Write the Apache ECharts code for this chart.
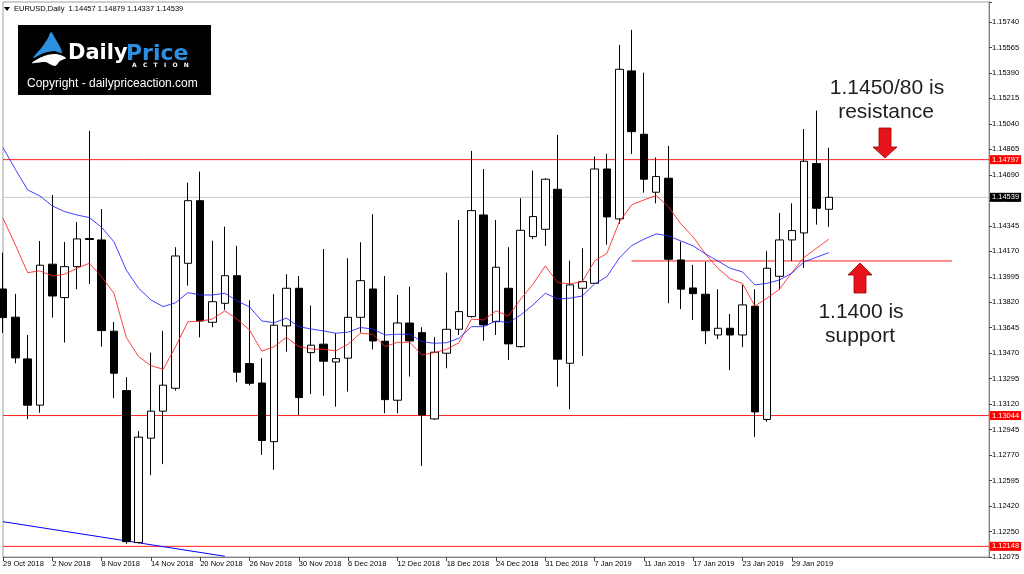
<!DOCTYPE html>
<html>
<head>
<meta charset="utf-8">
<script src="https://cdn.jsdelivr.net/npm/echarts@6/dist/echarts.min.js"></script>
<style>
html,body{margin:0;padding:0;background:#fff;}
#chart{width:1024px;height:574px;}
</style>
</head>
<body>
<div id="chart"></div>
<script>
// EURUSD daily bars, 29 Oct 2018 - 1 Feb 2019
var dates = ['29 Oct 2018','30 Oct 2018','31 Oct 2018','1 Nov 2018','2 Nov 2018','5 Nov 2018','6 Nov 2018','7 Nov 2018',
    '8 Nov 2018','9 Nov 2018','12 Nov 2018','13 Nov 2018','14 Nov 2018','15 Nov 2018','16 Nov 2018','19 Nov 2018',
    '20 Nov 2018','21 Nov 2018','22 Nov 2018','23 Nov 2018','26 Nov 2018','27 Nov 2018','28 Nov 2018','29 Nov 2018',
    '30 Nov 2018','3 Dec 2018','4 Dec 2018','5 Dec 2018','6 Dec 2018','7 Dec 2018','10 Dec 2018','11 Dec 2018',
    '12 Dec 2018','13 Dec 2018','14 Dec 2018','17 Dec 2018','18 Dec 2018','19 Dec 2018','20 Dec 2018','21 Dec 2018',
    '24 Dec 2018','26 Dec 2018','27 Dec 2018','28 Dec 2018','31 Dec 2018','2 Jan 2019','3 Jan 2019','4 Jan 2019',
    '7 Jan 2019','8 Jan 2019','9 Jan 2019','10 Jan 2019','11 Jan 2019','14 Jan 2019','15 Jan 2019','16 Jan 2019',
    '17 Jan 2019','18 Jan 2019','21 Jan 2019','22 Jan 2019','23 Jan 2019','24 Jan 2019','25 Jan 2019','28 Jan 2019',
    '29 Jan 2019','30 Jan 2019','31 Jan 2019','1 Feb 2019'];
var opens = [1.13911,1.13718,1.13432,1.13115,1.14081,1.13852,1.14064,1.14257,1.14247,1.13622,1.13215,1.12174,
    1.12889,1.13074,1.13231,1.14087,1.14516,1.13683,1.13813,1.14002,1.13400,1.13267,1.12865,1.13658,
    1.13916,1.13475,1.13533,1.13411,1.13437,1.13717,1.13911,1.13553,1.13149,1.13678,1.13612,1.13021,
    1.13471,1.13635,1.13722,1.14418,1.13687,1.13916,1.13516,1.14270,1.14320,1.14594,1.13402,1.13916,
    1.13950,1.14733,1.14391,1.15405,1.14971,1.14574,1.14670,1.14110,1.13918,1.13875,1.13596,1.13642,
    1.13596,1.13793,1.13017,1.13998,1.14247,1.14295,1.14770,1.14457];
var highs = [1.14160,1.13877,1.13596,1.14240,1.14555,1.14233,1.14370,1.14994,1.14459,1.13685,1.13307,1.12937,
    1.13475,1.13624,1.14197,1.14640,1.14715,1.14242,1.14338,1.14206,1.13833,1.13437,1.13875,1.14012,
    1.14000,1.13797,1.14185,1.13608,1.14122,1.14231,1.14423,1.14000,1.13870,1.13927,1.13649,1.13581,
    1.14023,1.14384,1.14857,1.14733,1.14384,1.14197,1.14533,1.14722,1.14670,1.14966,1.14105,1.14190,
    1.14818,1.14838,1.15583,1.15686,1.15393,1.14812,1.14891,1.14235,1.14076,1.14098,1.13909,1.13740,
    1.13939,1.13909,1.14170,1.14432,1.14498,1.15007,1.15133,1.14879];
var lows = [1.13610,1.13402,1.13019,1.13064,1.13715,1.13544,1.13909,1.13944,1.13516,1.13163,1.12165,1.12169,
    1.12635,1.12711,1.13215,1.13934,1.13580,1.13649,1.13768,1.13272,1.13250,1.12774,1.12672,1.13482,
    1.13048,1.13192,1.13180,1.13105,1.13208,1.13612,1.13498,1.13060,1.13060,1.13311,1.12699,1.13015,
    1.13368,1.13596,1.13715,1.13557,1.13596,1.13425,1.13510,1.14254,1.14206,1.13242,1.13087,1.13452,
    1.13945,1.14215,1.14357,1.14836,1.14571,1.14498,1.13813,1.13773,1.13699,1.13533,1.13567,1.13356,
    1.13512,1.12898,1.13002,1.13907,1.14103,1.14055,1.14352,1.14337];
var closes = [1.13715,1.13439,1.13115,1.14074,1.13863,1.14064,1.14254,1.14250,1.13626,1.13334,1.12180,1.12896,
    1.13074,1.13252,1.14137,1.14516,1.13692,1.13824,1.14002,1.13341,1.13265,1.12873,1.13663,1.13916,
    1.13167,1.13526,1.13416,1.13434,1.13717,1.13968,1.13555,1.13153,1.13678,1.13555,1.13048,1.13478,
    1.13635,1.13756,1.14448,1.13665,1.14060,1.13535,1.14313,1.14407,1.14663,1.13430,1.13939,1.13961,
    1.14733,1.14405,1.15416,1.14989,1.14663,1.14681,1.14115,1.13910,1.13879,1.13625,1.13642,1.13596,
    1.13802,1.13069,1.14053,1.14247,1.14311,1.14786,1.14464,1.14539];
// moving averages as drawn (red = fast, blue = slow)
var maFast = [1.14396,1.14213,1.14023,1.14035,1.14000,1.14012,1.14053,1.14087,1.13996,1.13882,1.13580,1.13448,
    1.13386,1.13361,1.13516,1.13687,1.13690,1.13706,1.13761,1.13704,1.13630,1.13485,1.13516,1.13580,
    1.13516,1.13500,1.13498,1.13487,1.13533,1.13608,1.13601,1.13516,1.13546,1.13546,1.13459,1.13475,
    1.13498,1.13543,1.13704,1.13699,1.13761,1.13726,1.13841,1.13944,1.14069,1.13955,1.13946,1.13961,
    1.14103,1.14156,1.14370,1.14487,1.14521,1.14552,1.14473,1.14357,1.14267,1.14151,1.14053,1.13980,
    1.13948,1.13795,1.13848,1.13909,1.14023,1.14128,1.14190,1.14252];
var maSlow = [1.14879,1.14731,1.14590,1.14548,1.14480,1.14441,1.14418,1.14400,1.14334,1.14235,1.14041,1.13916,
    1.13836,1.13790,1.13817,1.13886,1.13870,1.13870,1.13882,1.13829,1.13788,1.13692,1.13680,1.13711,
    1.13653,1.13637,1.13624,1.13608,1.13615,1.13647,1.13637,1.13596,1.13601,1.13601,1.13550,1.13539,
    1.13543,1.13574,1.13653,1.13653,1.13692,1.13680,1.13733,1.13802,1.13882,1.13843,1.13848,1.13863,
    1.13946,1.13996,1.14122,1.14208,1.14252,1.14288,1.14275,1.14240,1.14206,1.14151,1.14103,1.14053,
    1.14028,1.13939,1.13950,1.13973,1.14019,1.14098,1.14128,1.14160];
var yTickLabels = ['1.12075','1.12250','1.12420','1.12595','1.12770','1.12945','1.13120','1.13295','1.13470',
    '1.13645','1.13820','1.13995','1.14170','1.14345','1.14515','1.14690','1.14865','1.15040','1.15215',
    '1.15390','1.15565','1.15740'];
var levelLines = [1.14797, 1.13044, 1.12148];
var lastPrice = 1.14539;
var supportLevel = 1.14103;
var supportSpan = [51, 77];
var trendLine = [[0, 1.12317], [18, 1.12080]];
var emptyBars = 13;

var yMin = parseFloat(yTickLabels[0]);
var yStep = (parseFloat(yTickLabels[yTickLabels.length - 1]) - yMin) / (yTickLabels.length - 1);

var categories = dates.slice();
for (var k = 0; k < emptyBars; k++) categories.push('_' + k);
var lastIndex = categories.length - 1;

var ohlc = [];
for (var i = 0; i < dates.length; i++) {
    ohlc.push([opens[i], closes[i], lows[i], highs[i]]);
}

function showDateTick(index) {
    return index % 4 === 0 && index < dates.length;
}

var n = dates.length - 1;
var header = 'EURUSD,Daily  ' + opens[n].toFixed(5) + ' ' + highs[n].toFixed(5) + ' ' +
    lows[n].toFixed(5) + ' ' + closes[n].toFixed(5);

var axisFont = 'Liberation Sans';
var RED = '#ff2020';

// one flat line series per drawn level; the axis box is a markPoint-free endLabel
function levelSeries(name, value, color, box) {
    return {
        name: name, type: 'line', z: 1, silent: true,
        data: [[0, value], [lastIndex, value]],
        showSymbol: false,
        lineStyle: { color: color, width: 1 },
        emphasis: { disabled: true },
        endLabel: box ? {
            show: true, distance: 1, formatter: value.toFixed(5),
            backgroundColor: box, color: '#fff', fontSize: 7.5, fontFamily: axisFont,
            padding: [1, 2, 0, 2]
        } : { show: false }
    };
}

function segmentSeries(name, points, color) {
    return {
        name: name, type: 'line', z: 1, silent: true,
        data: points, showSymbol: false,
        lineStyle: { color: color, width: 1 },
        emphasis: { disabled: true }
    };
}

var series = [];
levelLines.forEach(function (v, j) {
    series.push(levelSeries('level' + j, v, RED, '#ff0000'));
});
series.push(levelSeries('last', lastPrice, '#c8c8c8', '#000'));
series.push(segmentSeries('support', [[supportSpan[0], supportLevel], [supportSpan[1], supportLevel]], RED));
series.push(segmentSeries('trend', trendLine, '#0000ff'));
series.push({
    name: 'EURUSD',
    type: 'candlestick',
    data: ohlc,
    barWidth: 8,
    z: 2,
    itemStyle: {
        color: '#fff', color0: '#000',
        borderColor: '#000', borderColor0: '#000', borderWidth: 1
    }
});
series.push({
    name: 'MA fast', type: 'line', data: maFast, showSymbol: false, z: 3,
    lineStyle: { color: '#ff2020', width: 1, opacity: 0.85 }
});
series.push({
    name: 'MA slow', type: 'line', data: maSlow, showSymbol: false, z: 3,
    lineStyle: { color: '#2020ff', width: 1, opacity: 0.85 }
});

var myChart = echarts.init(document.getElementById('chart'));

var option = {
    animation: false,
    backgroundColor: '#fff',
    grid: {
        left: 2, top: 2, right: 35, bottom: 17,
        show: true, borderColor: '#a0a0a0', borderWidth: 1, backgroundColor: '#fff'
    },
    xAxis: {
        type: 'category',
        data: categories,
        boundaryGap: false,
        axisLine: { lineStyle: { color: '#808080' } },
        axisTick: { show: true, length: 4, interval: showDateTick, lineStyle: { color: '#444' } },
        axisLabel: {
            interval: showDateTick, align: 'left', margin: 3,
            fontSize: 7.5, fontFamily: axisFont, color: '#000'
        },
        splitLine: { show: false }
    },
    yAxis: {
        type: 'value',
        position: 'right',
        min: yMin,
        max: 1.15877,
        interval: yStep,
        axisLine: { show: true, lineStyle: { color: '#808080' } },
        axisTick: { show: true, length: 3, lineStyle: { color: '#444' } },
        axisLabel: {
            margin: 3, fontSize: 7.5, fontFamily: axisFont, color: '#000',
            formatter: function (v) {
                var idx = Math.round((v - yMin) / yStep);
                return yTickLabels[idx] || '';
            }
        },
        splitLine: { show: false }
    },
    series: series,
    graphic: [
        // header
        { type: 'polygon', shape: { points: [[4, 7], [10, 7], [7, 11]] }, style: { fill: '#000' } },
        { type: 'text', x: 14, y: 9, style: { text: header, fill: '#000', font: '7.5px "Liberation Sans"', verticalAlign: 'middle' } },
        // logo
        { type: 'rect', shape: { x: 18, y: 25, width: 193, height: 70 }, style: { fill: '#000' } },
        { type: 'polygon', shape: { points: [[33, 58], [42, 47], [48, 38], [51, 32], [55, 38], [59, 45], [62, 53], [54, 51], [44, 53]], smooth: 0.3 }, style: { fill: '#2d8fe0' } },
        { type: 'polygon', shape: { points: [[32, 63], [44, 56], [56, 54], [66, 58], [60, 61], [55, 66], [45, 62]], smooth: 0.3 }, style: { fill: '#fff' } },
        { type: 'text', x: 68, y: 54, style: { text: 'Daily', fill: '#fff', font: 'bold 21px "DejaVu Sans"', verticalAlign: 'middle' } },
        { type: 'text', x: 126, y: 54, style: { text: 'Price', fill: '#2d8fe0', font: 'bold 22px "DejaVu Sans"', verticalAlign: 'middle' } },
        { type: 'text', x: 132, y: 65, style: { text: 'A   C   T   I   O   N', fill: '#fff', font: 'bold 6px "DejaVu Sans"', verticalAlign: 'middle' } },
        { type: 'text', x: 27, y: 84, style: { text: 'Copyright - dailypriceaction.com', fill: '#fff', font: '12px "Liberation Sans"', verticalAlign: 'middle' } },
        // annotations
        { type: 'text', x: 887, y: 88, style: { text: '1.1450/80 is', fill: '#1e1e1e', font: '21px "Liberation Sans"', align: 'center', verticalAlign: 'middle' } },
        { type: 'text', x: 886, y: 112, style: { text: 'resistance', fill: '#1e1e1e', font: '21px "Liberation Sans"', align: 'center', verticalAlign: 'middle' } },
        { type: 'polygon', shape: { points: [[879, 128], [891, 128], [891, 147], [897, 147], [885, 158], [873, 147], [879, 147]] }, style: { fill: '#e8141c', stroke: '#9b0000', lineWidth: 0.8 } },
        { type: 'polygon', shape: { points: [[860, 263], [872, 275], [866, 275], [866, 293], [854, 293], [854, 275], [848, 275]] }, style: { fill: '#e8141c', stroke: '#9b0000', lineWidth: 0.8 } },
        { type: 'text', x: 861, y: 312, style: { text: '1.1400 is', fill: '#1e1e1e', font: '21px "Liberation Sans"', align: 'center', verticalAlign: 'middle' } },
        { type: 'text', x: 860, y: 336, style: { text: 'support', fill: '#1e1e1e', font: '21px "Liberation Sans"', align: 'center', verticalAlign: 'middle' } }
    ]
};

myChart.setOption(option);
</script>
</body>
</html>
